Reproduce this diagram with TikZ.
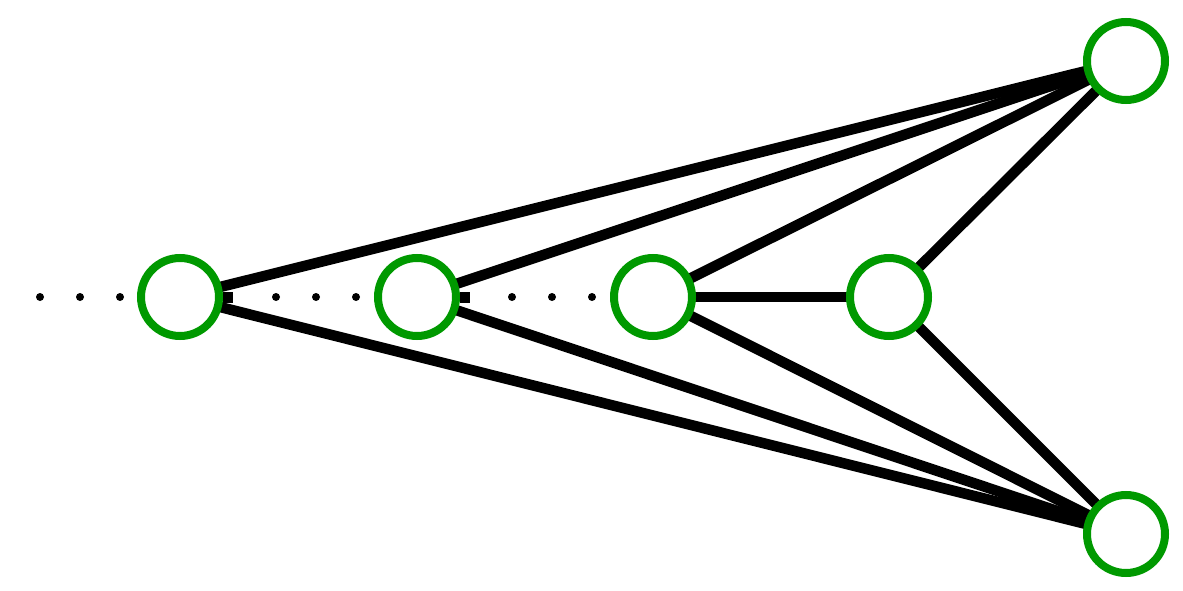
\documentclass[tikz,border=0pt]{standalone}
\usetikzlibrary{backgrounds,calc}
\definecolor{ringgreen}{RGB}{0,153,0}
\begin{document}
\begin{tikzpicture}[x=1pt,y=1pt,
  vert/.style={circle,draw=ringgreen,line width=8pt,fill=white,minimum size=78pt,inner sep=0pt},
  edge/.style={line width=10.5pt,black},
  dotline/.style={line width=8pt,line cap=round,dash pattern=on 0pt off 40pt,black},
  stub/.style={line width=11pt,black}]
\useasboundingbox (0,0) rectangle (1183,590);
\node[vert] (n1) at (180,293) {};
\node[vert] (n2) at (417,293) {};
\node[vert] (n3) at (653,293) {};
\node[vert] (n4) at (889,293) {};
\node[vert] (t) at (1126,529) {};
\node[vert] (b) at (1126,56) {};
\begin{pgfonlayer}{background}
\foreach \s in {n1,n2,n3,n4}{
  \draw[edge] (\s.center) -- (t.center);
  \draw[edge] (\s.center) -- (b.center);
}
\draw[edge] (n3.center) -- (n4.center);
\end{pgfonlayer}
\coordinate (l1) at ($(n1.center)+(-140,0)$);
\draw[dotline] (l1) -- ++(80.5,0);
\draw[stub] (n1.east) -- ++(10,0) coordinate (s1);
\draw[dotline] ($(s1)+(43,0)$) -- ++(80.5,0);
\draw[stub] (n2.east) -- ++(10,0) coordinate (s2);
\draw[dotline] ($(s2)+(42,0)$) -- ++(80.5,0);
\end{tikzpicture}
\end{document}
